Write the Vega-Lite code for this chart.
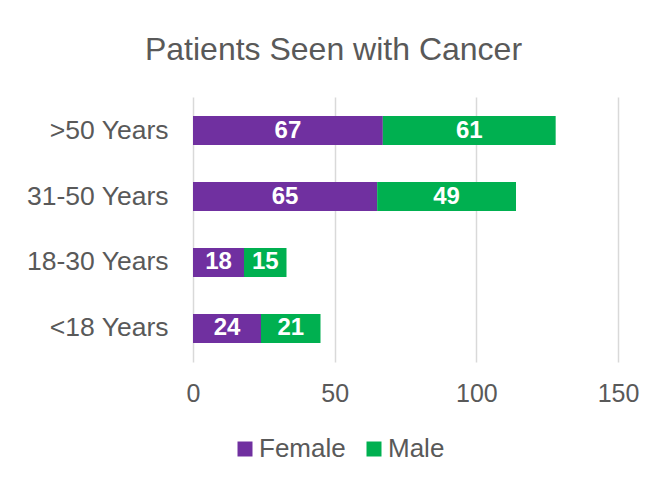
{
  "$schema": "https://vega.github.io/schema/vega-lite/v6.json",
  "width": 425,
  "height": 265,
  "autosize": {"type": "none"},
  "padding": {"left": 193, "top": 97, "right": 40, "bottom": 120},
  "background": "white",
  "title": {
    "text": "Patients Seen with Cancer",
    "font": "Liberation Sans",
    "fontSize": 32,
    "fontWeight": "normal",
    "color": "#595959",
    "anchor": "middle",
    "dx": -72,
    "offset": 30
  },
  "config": {
    "view": {"stroke": null},
    "font": "Liberation Sans"
  },
  "data": {
    "values": [
      {"age": ">50 Years", "gender": "Female", "count": 67, "order": 1},
      {"age": ">50 Years", "gender": "Male", "count": 61, "order": 2},
      {"age": "31-50 Years", "gender": "Female", "count": 65, "order": 1},
      {"age": "31-50 Years", "gender": "Male", "count": 49, "order": 2},
      {"age": "18-30 Years", "gender": "Female", "count": 18, "order": 1},
      {"age": "18-30 Years", "gender": "Male", "count": 15, "order": 2},
      {"age": "<18 Years", "gender": "Female", "count": 24, "order": 1},
      {"age": "<18 Years", "gender": "Male", "count": 21, "order": 2}
    ]
  },
  "encoding": {
    "y": {
      "field": "age",
      "type": "nominal",
      "sort": [">50 Years", "31-50 Years", "18-30 Years", "<18 Years"],
      "scale": {"paddingInner": 0.56, "paddingOuter": 0.288},
      "axis": {
        "title": null,
        "domain": false,
        "ticks": false,
        "labelFontSize": 26.5,
        "labelColor": "#595959",
        "labelPadding": 25,
        "labelFont": "Liberation Sans"
      }
    },
    "x": {
      "field": "count",
      "type": "quantitative",
      "stack": "zero",
      "scale": {"domain": [0, 150], "nice": false},
      "axis": {
        "title": null,
        "values": [0, 50, 100, 150],
        "domain": false,
        "ticks": false,
        "grid": true,
        "gridColor": "#d9d9d9",
        "gridWidth": 1.5,
        "labelFontSize": 25,
        "labelColor": "#595959",
        "labelPadding": 19,
        "labelFlush": false,
        "labelOverlap": false,
        "labelFont": "Liberation Sans"
      }
    },
    "order": {"field": "order", "type": "quantitative"}
  },
  "layer": [
    {
      "mark": {"type": "bar"},
      "encoding": {
        "color": {
          "field": "gender",
          "type": "nominal",
          "scale": {"domain": ["Female", "Male"], "range": ["#7030A0", "#00B050"]},
          "legend": {
            "title": null,
            "orient": "none",
            "direction": "horizontal",
            "legendX": 39,
            "legendY": 339,
            "symbolType": "square",
            "symbolSize": 225,
            "symbolStrokeWidth": 0,
            "labelFontSize": 26,
            "labelColor": "#595959",
            "labelFont": "Liberation Sans",
            "labelOffset": 1,
            "columnPadding": 15
          }
        }
      }
    },
    {
      "mark": {
        "type": "text",
        "color": "white",
        "fontSize": 24,
        "fontWeight": "bold",
        "font": "Liberation Sans",
        "baseline": "middle",
        "align": "center"
      },
      "encoding": {
        "x": {"field": "count", "type": "quantitative", "stack": "zero", "bandPosition": 0.5},
        "text": {"field": "count", "type": "quantitative"}
      }
    }
  ]
}
